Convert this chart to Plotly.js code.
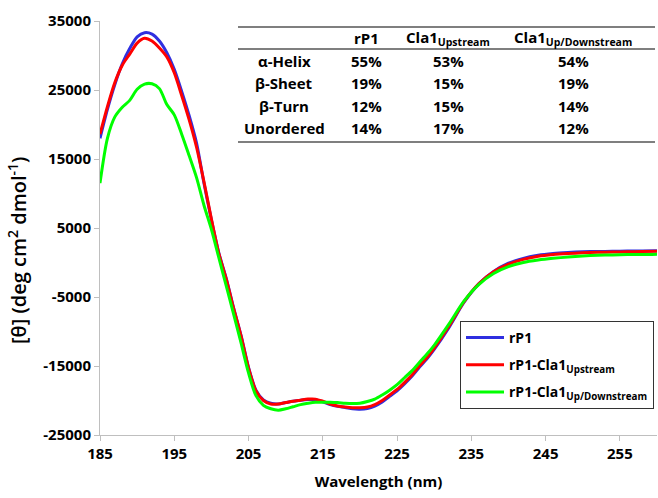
<!DOCTYPE html>
<html>
<head>
<meta charset="utf-8">
<script src="https://cdn.plot.ly/plotly-3.0.1.min.js"></script>
<style>
  html, body { margin: 0; padding: 0; background: #fff; }
  #chart { width: 658px; height: 498px; }
</style>
</head>
<body>
<div id="chart"></div>
<script>
// ---- Data ----
const wavelength = [185,186,187,188,189,190,191,192,193,194,195,196,197,198,199,200,201,202,203,204,205,206,207,208,209,210,211,212,213,214,215,216,217,218,219,220,221,222,223,224,225,226,227,228,229,230,232,234,236,238,240,242,244,246,248,250,252,254,256,258,260];

const rP1 = [18000,22200,25800,28800,31000,32700,33300,33100,32100,30400,28000,24800,21300,17300,11500,6200,1400,-2300,-6600,-10600,-15200,-18500,-19900,-20400,-20500,-20300,-20100,-19950,-19850,-19900,-20200,-20600,-20850,-21000,-21200,-21250,-21150,-20800,-20200,-19400,-18600,-17600,-16500,-15200,-14000,-12600,-9400,-5800,-3100,-1300,-100,600,1050,1300,1450,1550,1600,1620,1650,1680,1720];

const rP1Up = [18600,22600,26100,28600,30200,31800,32500,32100,31100,29800,27500,24200,20700,16700,11700,6300,1300,-2400,-6700,-10700,-15300,-18600,-20000,-20500,-20500,-20300,-20100,-19950,-19800,-19800,-20100,-20500,-20800,-20950,-21050,-21050,-20950,-20600,-20000,-19200,-18400,-17400,-16300,-15000,-13800,-12400,-9200,-5700,-3100,-1350,-250,450,900,1150,1300,1400,1480,1520,1550,1580,1620];

const rP1UpDown = [11500,18000,21100,22500,23500,25100,25850,25900,25200,22900,21400,18600,15500,12300,8300,4800,700,-3400,-7500,-11700,-16000,-19300,-20700,-21200,-21400,-21200,-20900,-20600,-20400,-20250,-20250,-20250,-20300,-20400,-20450,-20400,-20150,-19800,-19200,-18500,-17700,-16700,-15700,-14500,-13300,-12000,-8900,-5600,-3200,-1600,-600,0,350,600,800,950,1050,1100,1150,1150,1200];

const seriesNames = ['rP1', 'rP1-Cla1<sub>Upstream</sub>', 'rP1-Cla1<sub>Up/Downstream</sub>'];

const yTickVals = [-25000,-15000,-5000,5000,15000,25000,35000];
const xTickVals = [185,195,205,215,225,235,245,255];

// Secondary-structure table
const tableHeaders = ['rP1', 'Cla1<sub>Upstream</sub>', 'Cla1<sub>Up/Downstream</sub>'];
const tableRows = ['α-Helix', 'β-Sheet', 'β-Turn', 'Unordered'];
const pctRP1 = [55, 19, 12, 14];
const pctUp = [53, 15, 15, 17];
const pctUpDown = [54, 19, 14, 12];

// ---- Layout geometry ----
const W = 658, H = 498;
const M = {l: 100, r: 1, t: 21, b: 63};
const pw = W - M.l - M.r, ph = H - M.t - M.b;
const px2x = p => (p - M.l) / pw;
const py2y = p => (H - M.b - p) / ph;

const FONT = 'Open Sans, Noto Sans, DejaVu Sans, sans-serif';
const colors = ['#2f2fe0', '#ff0000', '#00ff00'];

const traces = [rP1, rP1Up, rP1UpDown].map((vals, i) => ({
  type: 'scatter',
  mode: 'lines',
  x: wavelength,
  y: vals,
  name: seriesNames[i],
  legendgroup: 'g' + i,
  line: {color: colors[i], width: 3, shape: 'spline', smoothing: 0.8}
}));

const annotations = [];
const shapes = [];
const tf = {family: FONT, size: 15, color: '#000', weight: 700};

// table lines
[27, 49, 142].forEach(py => shapes.push({
  type: 'line', xref: 'paper', yref: 'paper',
  x0: px2x(238), x1: px2x(655), y0: py2y(py), y1: py2y(py),
  line: {color: '#555', width: 1.3}
}));

const colX = [284, 366, 448, 573];
const headerY = 38;
const rowY = [61, 83, 106, 128];
tableHeaders.forEach((h, j) => annotations.push({
  xref: 'paper', yref: 'paper', x: px2x(colX[j + 1]), y: py2y(headerY),
  text: h, showarrow: false, xanchor: 'center', yanchor: 'middle', font: tf
}));
tableRows.forEach((r, i) => {
  const vals = [r, pctRP1[i] + '%', pctUp[i] + '%', pctUpDown[i] + '%'];
  vals.forEach((v, j) => annotations.push({
    xref: 'paper', yref: 'paper', x: px2x(colX[j]), y: py2y(rowY[i]),
    text: v, showarrow: false, xanchor: 'center', yanchor: 'middle', font: tf
  }));
});

// y-axis title
annotations.push({
  xref: 'paper', yref: 'paper', x: px2x(17), y: py2y(251),
  text: '[θ] (deg cm<sup>2</sup> dmol<sup>-1</sup>)', textangle: -90,
  showarrow: false, xanchor: 'center', yanchor: 'middle',
  font: {family: FONT, size: 20, color: '#000', weight: 600}
});

const layout = {
  width: W, height: H,
  margin: M,
  paper_bgcolor: '#fff', plot_bgcolor: '#fff',
  showlegend: true,
  legend: {
    x: px2x(460), y: py2y(321), xanchor: 'left', yanchor: 'top',
    bordercolor: '#333', borderwidth: 1, bgcolor: '#fff',
    font: {family: FONT, size: 14, color: '#000', weight: 700},
    traceorder: 'grouped', tracegroupgap: 6, itemwidth: 38
  },
  xaxis: {
    range: [185, 260],
    tickvals: xTickVals, ticktext: xTickVals.map(String),
    ticks: 'outside', ticklen: 5, tickcolor: '#bfbfbf',
    showline: true, linecolor: '#bfbfbf', linewidth: 1,
    showgrid: false, zeroline: false,
    tickfont: {family: FONT, size: 15, color: '#000', weight: 700},
    title: {text: 'Wavelength (nm)', standoff: 14,
            font: {family: FONT, size: 15, color: '#000', weight: 700}}
  },
  yaxis: {
    range: [-25000, 35000],
    tickvals: yTickVals, ticktext: yTickVals.map(String),
    ticks: 'outside', ticklen: 5, tickcolor: '#bfbfbf',
    showline: true, linecolor: '#bfbfbf', linewidth: 1,
    showgrid: false, zeroline: false,
    tickfont: {family: FONT, size: 15, color: '#000', weight: 700}
  },
  shapes: shapes,
  annotations: annotations
};

Plotly.newPlot('chart', traces, layout, {displayModeBar: false, staticPlot: true});
</script>
</body>
</html>
